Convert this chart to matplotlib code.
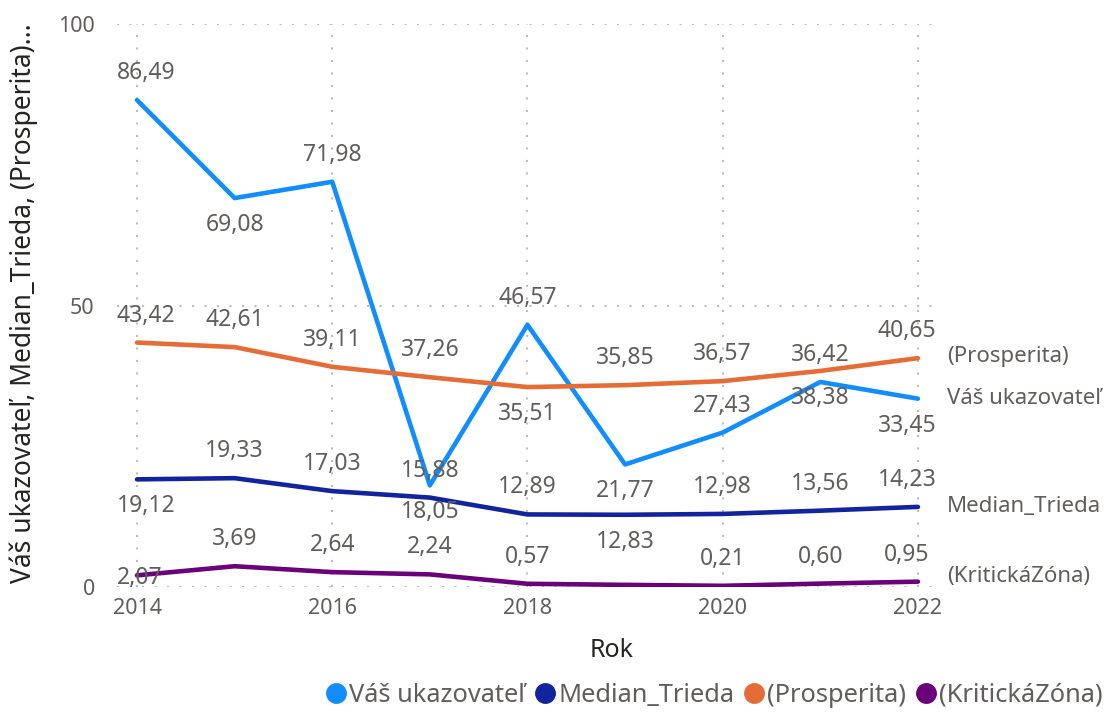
import numpy as np
import matplotlib
matplotlib.use("Agg")
import matplotlib.pyplot as plt
from matplotlib.lines import Line2D

plt.rcParams['font.family'] = ['Noto Sans', 'DejaVu Sans']

# data
years = [2014, 2015, 2016, 2017, 2018, 2019, 2020, 2021, 2022]
vas = [86.49, 69.08, 71.98, 18.05, 46.57, 21.77, 27.43, 36.42, 33.45]
median = [19.12, 19.33, 17.03, 15.88, 12.89, 12.83, 12.98, 13.56, 14.23]
prosperita = [43.42, 42.61, 39.11, 37.26, 35.51, 35.85, 36.57, 38.38, 40.65]
kriticka = [2.07, 3.69, 2.64, 2.24, 0.57, 0.38, 0.21, 0.60, 0.95]

names = ['Váš ukazovateľ', 'Median_Trieda', '(Prosperita)', '(KritickáZóna)']
colors = ['#118DFF', '#12239E', '#E66C37', '#6B007B']
series = [vas, median, prosperita, kriticka]

# label placement: 1 above, -1 below, 0 on point, None hidden
label_pos = [
    [1, -1, 1, -1, 1, -1, 1, 1, -1],
    [-1, 1, 1, 1, 1, -1, 1, 1, 1],
    [1, 1, 1, 1, -1, 1, 1, -1, 1],
    [0, 1, 1, 1, 1, None, 1, 1, 1],
]
end_shift = [0, 0, 2, 5]  # px nudge for right-hand series names

grey = '#605E5C'

fig = plt.figure(figsize=(11.06, 7.14), dpi=100)
ax = fig.add_axes([117/1106, 1-587/714, 818/1106, 563/714])

for s, c in zip(series, colors):
    ax.plot(years, s, color=c, lw=3.3, solid_joinstyle='round',
            solid_capstyle='round', zorder=3)

for si, s in enumerate(series):
    for i, (x, y) in enumerate(zip(years, s)):
        p = label_pos[si][i]
        if p is None:
            continue
        dx = 0
        if i == 0:
            dx = 9 if p != 0 else 3
        elif i == len(years) - 1:
            dx = -11
        dy = 27 * p if p != 0 else -3
        ax.annotate(f'{y:.2f}'.replace('.', ','), (x, y),
                    xytext=(dx, dy), textcoords='offset pixels',
                    ha='center', va='center', fontsize=16.5, color=grey,
                    zorder=4)
    ax.annotate(names[si], (years[-1], s[-1]), xytext=(29, end_shift[si]),
                textcoords='offset pixels', ha='left', va='center',
                fontsize=16, color=grey, annotation_clip=False)

ax.set_xlim(2013.795, 2022.175)
ax.set_ylim(0, 100)
ax.set_yticks([0, 50, 100])
ax.set_xticks([2014, 2016, 2018, 2020, 2022])
ax.tick_params(length=0, labelsize=15.5, labelcolor=grey)
ax.tick_params(axis='y', pad=16)
ax.tick_params(axis='x', pad=8)
ax.grid(True, color='#BDBDBD', linestyle=(0, (1, 5)), lw=1.5)
for sp in ax.spines.values():
    sp.set_visible(False)

ax.set_xlabel('Rok', fontsize=18, color='#252423', fontweight='medium')
ax.xaxis.set_label_coords(0.605, -0.09)
ax.set_ylabel('Váš ukazovateľ, Median_Trieda, (Prosperita)...', fontsize=19,
              color='#252423', fontweight='medium')
ax.yaxis.set_label_coords(-0.097, 0.504)

handles = [Line2D([], [], marker='o', ls='', color=c, markersize=14)
           for c in colors]
leg = fig.legend(handles, names, loc='center', bbox_to_anchor=(0.646, 0.026),
                 ncol=4, frameon=False, fontsize=18.3, handlelength=0.8,
                 handletextpad=0.1, columnspacing=0.4, labelcolor=grey,
                 borderpad=0, borderaxespad=0)

fig.savefig('out.png', dpi=100)
